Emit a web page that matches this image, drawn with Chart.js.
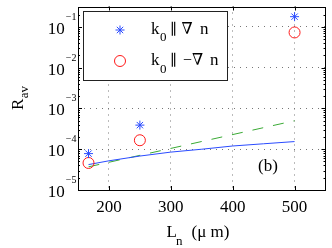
<!DOCTYPE html>
<html>
<head>
<meta charset="utf-8">
<script src="https://cdn.jsdelivr.net/npm/chart.js@4.4.1/dist/chart.umd.min.js"></script>
<style>
  html, body { margin: 0; padding: 0; background: #fff; }
  #wrap { width: 332px; height: 248px; }
</style>
</head>
<body>
<div id="wrap"><canvas id="chart" width="332" height="248"></canvas></div>
<script>
// values
const lnStar = [167, 250, 500]
const rStar = [7.8e-5, 3.9e-4, 0.178]
const lnCircle = [167, 250, 500]
const rCircle = [4.6e-5, 1.66e-4, 0.073]
const lnBlue = [167, 200, 250, 300, 350, 400, 450, 500]
const rBlue = [4.2e-5, 5.2e-5, 6.8e-5, 8.5e-5, 1.0e-4, 1.2e-4, 1.36e-4, 1.54e-4]
const lnGreen = [167, 500]
const rGreen = [3.7e-5, 5.0e-4]

const xTicks = [200, 300, 400, 500]
const yExps = [-5, -4, -3, -2, -1]
const yTicks = yExps.map(e => Math.pow(10, e))

const legendLabels = [
    { pre: 'k', sub: '0', rest: ['\u2225', '\u2207', 'n'] },
    { pre: 'k', sub: '0', rest: ['\u2225', '\u2212\u2207', 'n'] }
]

const BLUE = '#2a4bff'
const RED = '#ff1a1a'
const GREEN = '#3aaa35'
const SERIF = '"Liberation Serif", "DejaVu Serif", serif'

const pts = (xs, ys) => xs.map((v, i) => ({ x: v, y: ys[i] }))

const decorations = {
    id: 'decorations',
    afterDraw(chart) {
        const { ctx, chartArea: a, scales: { x, y } } = chart
        ctx.save()

        // box around plot
        ctx.strokeStyle = '#000'
        ctx.lineWidth = 1
        ctx.strokeRect(Math.round(a.left) + 0.5, Math.round(a.top) + 0.5,
            Math.round(a.right - a.left) - 1, Math.round(a.bottom - a.top) - 1)

        // inward ticks
        ctx.beginPath()
        xTicks.forEach(v => {
            const px = Math.round(x.getPixelForValue(v)) + 0.5
            ctx.moveTo(px, a.bottom); ctx.lineTo(px, a.bottom - 4)
            ctx.moveTo(px, a.top); ctx.lineTo(px, a.top + 4)
        })
        yExps.forEach(e => {
            for (let k = 1; k <= 9; k++) {
                const v = k * Math.pow(10, e)
                if (v > y.max) break
                const py = Math.round(y.getPixelForValue(v)) + 0.5
                const len = k === 1 ? 4 : 2
                ctx.moveTo(a.left, py); ctx.lineTo(a.left + len, py)
                ctx.moveTo(a.right, py); ctx.lineTo(a.right - len, py)
            }
        })
        ctx.stroke()

        // tick labels
        ctx.fillStyle = '#000'
        ctx.textBaseline = 'alphabetic'
        ctx.font = '17px ' + SERIF
        ctx.textAlign = 'center'
        xTicks.forEach(v => {
            ctx.fillText(String(v), x.getPixelForValue(v), a.bottom + 22)
        })
        yExps.forEach((e, i) => {
            const py = y.getPixelForValue(yTicks[i])
            ctx.font = '10px ' + SERIF
            ctx.textAlign = 'right'
            const expStr = '\u2212' + Math.abs(e)
            ctx.fillText(expStr, a.left - 1.5, py - 7)
            const w = ctx.measureText(expStr).width
            ctx.font = '17px ' + SERIF
            ctx.fillText('10', a.left - 2.5 - w, py + 7)
        })

        // x title
        ctx.textAlign = 'left'
        ctx.font = '17px ' + SERIF
        ctx.fillText('L', 166.5, 237)
        ctx.font = '13px ' + SERIF
        ctx.fillText('n', 176, 245)
        ctx.font = '17px ' + SERIF
        ctx.fillText('(\u03bc m)', 191.5, 237)

        // y title
        ctx.save()
        ctx.translate(23, 110)
        ctx.rotate(-Math.PI / 2)
        ctx.font = '17px ' + SERIF
        ctx.fillText('R', 0, 0)
        const rw = ctx.measureText('R').width
        ctx.font = '13px ' + SERIF
        ctx.fillText('av', rw + 0.5, 5)
        ctx.restore()

        // panel tag
        ctx.font = '17px ' + SERIF
        ctx.textAlign = 'center'
        ctx.fillText('(b)', 268, 171)

        // legend
        const lx = 83.5, ly = 11.5, lw = 144, lh = 69
        ctx.fillStyle = '#fff'
        ctx.fillRect(lx, ly, lw, lh)
        ctx.strokeStyle = '#222'
        ctx.strokeRect(lx, ly, lw, lh)

        // legend markers
        ctx.strokeStyle = BLUE
        ctx.lineWidth = 1
        Chart.helpers.drawPoint(ctx, { pointStyle: 'star', radius: 4.5, rotation: 0, borderWidth: 1 }, 120, 30)
        ctx.strokeStyle = RED
        Chart.helpers.drawPoint(ctx, { pointStyle: 'circle', radius: 5.5, rotation: 0, borderWidth: 1 }, 120, 61)

        // legend text
        ctx.fillStyle = '#000'
        ctx.textAlign = 'left'
        const rows = [
            { base: 33.5, xs: [171, 181.5, 200] },
            { base: 65, xs: [171, 183, 210] }
        ]
        legendLabels.forEach((lab, i) => {
            const r = rows[i]
            ctx.font = '17px ' + SERIF
            ctx.fillText(lab.pre, 151, r.base)
            ctx.font = '13px ' + SERIF
            ctx.fillText(lab.sub, 160, r.base + 7.5)
            ctx.font = '15px ' + SERIF
            ctx.fillText(lab.rest[0], r.xs[0] - 1, r.base)
            ctx.font = '16px ' + SERIF
            ctx.fillText(lab.rest[1], r.xs[1], r.base)
            ctx.font = '17px ' + SERIF
            ctx.fillText(lab.rest[2], r.xs[2], r.base)
        })

        ctx.restore()
    }
}

const ctx = document.getElementById('chart').getContext('2d')
new Chart(ctx, {
    type: 'scatter',
    data: {
        datasets: [
            {
                label: 'k0 || grad n',
                data: pts(lnStar, rStar),
                pointStyle: 'star',
                pointRadius: 4.5,
                borderColor: BLUE,
                backgroundColor: BLUE,
                borderWidth: 1
            },
            {
                label: 'k0 || -grad n',
                data: pts(lnCircle, rCircle),
                pointStyle: 'circle',
                pointRadius: 5.5,
                borderColor: RED,
                backgroundColor: 'rgba(0,0,0,0)',
                borderWidth: 1
            },
            {
                label: 'fit 1',
                data: pts(lnBlue, rBlue),
                showLine: true,
                pointRadius: 0,
                borderColor: BLUE,
                borderWidth: 1,
                tension: 0
            },
            {
                label: 'fit 2',
                data: pts(lnGreen, rGreen),
                showLine: true,
                pointRadius: 0,
                borderColor: GREEN,
                borderWidth: 1,
                borderDash: [11, 10]
            }
        ]
    },
    options: {
        responsive: false,
        animation: false,
        devicePixelRatio: 1,
        layout: { padding: { left: 78, top: 6, right: 6, bottom: 58 } },
        plugins: { legend: { display: false }, tooltip: { enabled: false } },
        scales: {
            x: {
                type: 'linear',
                min: 150,
                max: 550,
                afterBuildTicks: s => { s.ticks = xTicks.map(v => ({ value: v })) },
                ticks: { display: false },
                grid: { color: '#777', lineWidth: 1, drawTicks: false },
                border: { display: false, dash: [1, 5] }
            },
            y: {
                type: 'logarithmic',
                min: 1e-5,
                max: Math.pow(10, -0.5),
                afterBuildTicks: s => { s.ticks = yTicks.map(v => ({ value: v })) },
                ticks: { display: false },
                grid: { color: '#777', lineWidth: 1, drawTicks: false },
                border: { display: false, dash: [1, 5] }
            }
        }
    },
    plugins: [decorations]
})
</script>
</body>
</html>
